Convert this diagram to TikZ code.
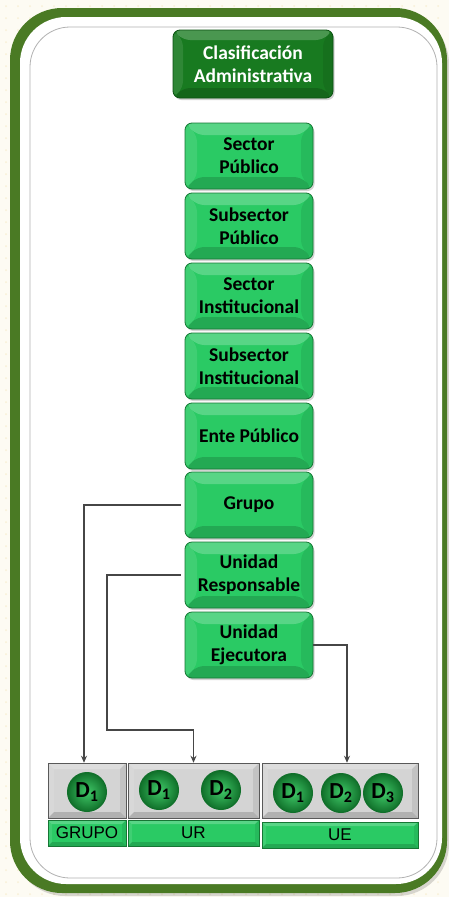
\documentclass[tikz,border=0pt]{standalone}
\usepackage{fontspec}
\setmainfont{Carlito}
\newfontfamily\barfont{Liberation Sans}
\usetikzlibrary{shadows,arrows.meta}

\definecolor{cream}{RGB}{253,251,243}
\definecolor{creamdot}{RGB}{248,240,214}
\definecolor{frameGreen}{RGB}{74,122,36}
\definecolor{titleGreen}{RGB}{24,122,32}
\definecolor{titleEdge}{RGB}{12,80,18}
\definecolor{boxGreen}{RGB}{42,202,100}
\definecolor{boxEdge}{RGB}{22,118,52}
\definecolor{ballDark}{RGB}{16,112,42}
\definecolor{ballLight}{RGB}{64,200,104}
\definecolor{panelLight}{RGB}{212,212,212}
\definecolor{wire}{RGB}{70,70,70}

\tikzset{
  bevel/.style={path picture={
    \fill[white,opacity=0.22]
      (path picture bounding box.north west) -- (path picture bounding box.north east)
      -- ([shift={(-#1,-#1)}]path picture bounding box.north east)
      -- ([shift={(#1,-#1)}]path picture bounding box.north west) -- cycle;
    \fill[white,opacity=0.10]
      (path picture bounding box.north west) -- (path picture bounding box.south west)
      -- ([shift={(#1,#1)}]path picture bounding box.south west)
      -- ([shift={(#1,-#1)}]path picture bounding box.north west) -- cycle;
    \fill[black,opacity=0.16]
      (path picture bounding box.south west) -- (path picture bounding box.south east)
      -- ([shift={(-#1,#1)}]path picture bounding box.south east)
      -- ([shift={(#1,#1)}]path picture bounding box.south west) -- cycle;
    \fill[black,opacity=0.08]
      (path picture bounding box.north east) -- (path picture bounding box.south east)
      -- ([shift={(-#1,#1)}]path picture bounding box.south east)
      -- ([shift={(-#1,-#1)}]path picture bounding box.north east) -- cycle;
  }},
  gbox/.style={draw=boxEdge, line width=0.8pt, fill=boxGreen, rounded corners=7pt,
    minimum width=128pt, minimum height=66pt, align=center, inner sep=1pt,
    font=\fontsize{19.5}{23}\selectfont\bfseries, bevel=12pt,
    drop shadow={shadow xshift=1.5pt, shadow yshift=-2pt, opacity=0.35}},
  titlebox/.style={draw=titleEdge, line width=0.8pt, fill=titleGreen, rounded corners=7pt,
    minimum width=160pt, minimum height=68pt, align=center, text=white, inner sep=1pt,
    font=\fontsize{19.5}{23}\selectfont\bfseries, bevel=10pt,
    drop shadow={shadow xshift=1.5pt, shadow yshift=-2pt, opacity=0.35}},
  panel/.style={draw=gray!70!black, line width=0.5pt, fill=panelLight,
    minimum height=55pt, bevel=6pt, inner sep=0pt},
  bar/.style={draw=boxEdge, line width=0.5pt, fill=boxGreen, minimum height=26pt,
    bevel=4pt, inner sep=0pt, font=\barfont\fontsize{17}{19}\selectfont},
  ball/.style={circle, minimum size=39pt, inner sep=0pt, draw=ballDark, line width=1pt,
    inner color=ballLight, outer color=ballDark,
    font=\fontsize{23}{25}\selectfont\bfseries},
  link/.style={draw=wire, line width=1.1pt, -{Stealth[length=7pt,width=6pt]}}
}

\begin{document}
\begin{tikzpicture}[x=1pt,y=-1pt]
\useasboundingbox (0,0) rectangle (449,897);

% backdrop with faint dots
\fill[cream] (0,0) rectangle (449,897);
\foreach \i in {0,...,37}{\foreach \j in {0,...,74}{
  \fill[creamdot] (6+12*\i,6+12*\j) circle (1pt);}}

% rounded green frame and inner white panel
\fill[black,opacity=0.15] (13,12) [rounded corners=52pt] rectangle (449,896);
\fill[frameGreen] (10,8) [rounded corners=52pt] rectangle (447,893);
\fill[white] (20,17) [rounded corners=46pt] rectangle (442,884);
\draw[gray!60, line width=0.8pt] (30,27) [rounded corners=40pt] rectangle (437,878);

% title
\node[titlebox] (title) at (253,64) {Clasificación\\Administrativa};

% hierarchy column
\node[gbox] (sp)   at (249,156) {Sector\\Público};
\node[gbox] (ssp)  at (249,226) {Subsector\\Público};
\node[gbox] (si)   at (249,296) {Sector\\Institucional};
\node[gbox] (ssi)  at (249,366) {Subsector\\Institucional};
\node[gbox] (ente) at (249,436) {Ente Público};
\node[gbox] (grp)  at (249,505) {Grupo};
\node[gbox] (ur)   at (249,575) {Unidad\\Responsable};
\node[gbox] (ue)   at (249,645) {Unidad\\Ejecutora};

% bottom panels
\node[panel, minimum width=78pt]  (bgrupo) at (87,790.5) {};
\node[panel, minimum width=131pt] (bur)    at (193.5,790.5) {};
\node[panel, minimum width=156pt] (bue)    at (340,790.5) {};

\node[bar, minimum width=78pt]  (lgrupo) at (87,833) {GRUPO};
\node[bar, minimum width=131pt] (lur)    at (193.5,833) {UR};
\node[bar, minimum width=156pt] (lue)    at (340,835) {UE};

% digit balls
\node[ball] (g1)  at (87,792)  {D\textsubscript{1}};
\node[ball] (r1)  at (159,790) {D\textsubscript{1}};
\node[ball] (r2)  at (221,790) {D\textsubscript{2}};
\node[ball] (e1)  at (293,793) {D\textsubscript{1}};
\node[ball] (e2)  at (341,793) {D\textsubscript{2}};
\node[ball] (e3)  at (383,793) {D\textsubscript{3}};

% connectors
\coordinate (urbend) at (107,730);
\draw[link, shorten <=4pt] (grp.west) -| ([xshift=-3pt]bgrupo.north);
\draw[link, shorten <=4pt] (ur.west) -| (urbend) -| (bur.north);
\draw[link] (ue.east) -| ([xshift=7pt]bue.north);
\end{tikzpicture}
\end{document}
